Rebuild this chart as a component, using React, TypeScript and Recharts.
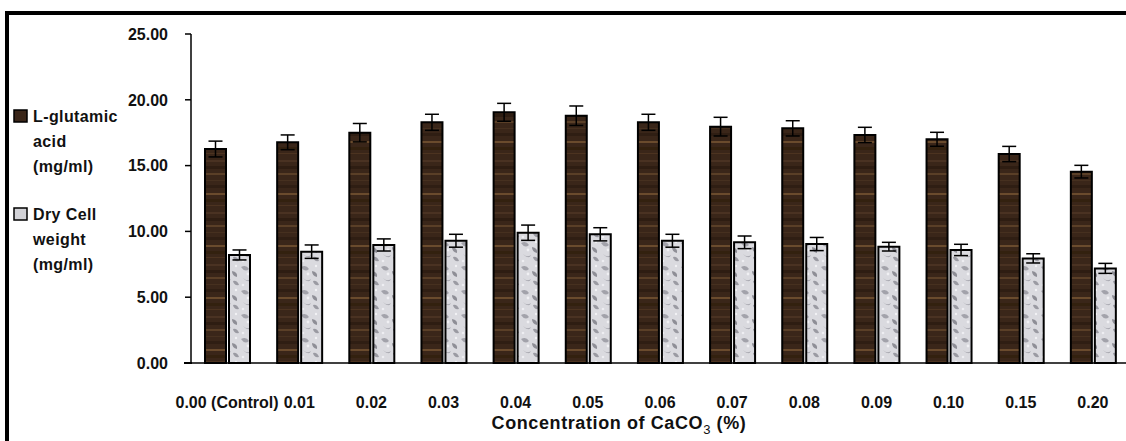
import React from "react";
import { BarChart, Bar, XAxis, YAxis, ErrorBar } from "recharts";

// CaCO3 concentration (%) on the category axis
const categories = [
  "0.00 (Control)",
  "0.01",
  "0.02",
  "0.03",
  "0.04",
  "0.05",
  "0.06",
  "0.07",
  "0.08",
  "0.09",
  "0.10",
  "0.15",
  "0.20",
];

// L-glutamic acid (mg/ml) and its standard error
const glutamic = [16.26, 16.77, 17.5, 18.29, 19.05, 18.79, 18.29, 17.96, 17.83, 17.33, 17.0, 15.88, 14.54];
const glutamicErr = [0.6, 0.56, 0.7, 0.61, 0.68, 0.74, 0.61, 0.71, 0.58, 0.58, 0.53, 0.58, 0.48];

// Dry cell weight (mg/ml) and its standard error
const dryCell = [8.21, 8.46, 8.97, 9.29, 9.9, 9.78, 9.29, 9.17, 9.04, 8.84, 8.59, 7.95, 7.19];
const dryCellErr = [0.38, 0.51, 0.46, 0.49, 0.58, 0.5, 0.49, 0.48, 0.5, 0.33, 0.43, 0.35, 0.38];

const yTicks = [0, 5, 10, 15, 20, 25];

const data = categories.map((name, i) => ({
  name,
  glu: glutamic[i],
  gluErr: glutamicErr[i],
  dcw: dryCell[i],
  dcwErr: dryCellErr[i],
}));

const FONT = "'Liberation Sans', Arial, sans-serif";

const labelStyle: React.CSSProperties = {
  fontFamily: FONT,
  fontWeight: 700,
  fontSize: 16,
  fill: "#111",
};

const XTick = ({ x, y, payload }: any) => (
  <text x={x} y={y + 43} textAnchor="middle" style={labelStyle}>
    {payload.value}
  </text>
);

const YTick = ({ x, y, payload }: any) => (
  <text x={x} y={y} dy="0.36em" textAnchor="end" style={labelStyle}>
    {Number(payload.value).toFixed(2)}
  </text>
);

const Swatch = ({ fill }: { fill: string }) => (
  <svg width={16} height={14} style={{ position: "absolute", left: 13, top: 0 }}>
    <rect x={1} y={1} width={13} height={12} fill={fill} stroke="#000" strokeWidth={1.5} />
  </svg>
);

const legendText: React.CSSProperties = {
  position: "absolute",
  left: 33,
  fontFamily: FONT,
  fontWeight: 700,
  fontSize: 16,
  letterSpacing: 0.4,
  lineHeight: "25px",
  color: "#111",
  whiteSpace: "nowrap",
};

function Patterns() {
  return (
    <defs>
      <pattern id="wood" patternUnits="userSpaceOnUse" width={24} height={52}>
        <rect width={24} height={52} fill="#3a2619" />
        <rect y={4} width={24} height={2} fill="#4a3222" />
        <rect y={10} width={24} height={3} fill="#2e1d12" />
        <rect y={17} width={24} height={2} fill="#5a3f27" />
        <rect y={24} width={24} height={1} fill="#46301f" />
        <rect y={29} width={24} height={3} fill="#2f1e13" />
        <rect y={37} width={24} height={2} fill="#6a4b2d" />
        <rect y={43} width={24} height={3} fill="#33210f" />
        <rect y={49} width={24} height={1} fill="#4c3320" />
      </pattern>
      <pattern id="granite" patternUnits="userSpaceOnUse" width={20} height={24}>
        <rect width={20} height={24} fill="#dadadf" />
        <path d="M1 3 q5 -3 8 2 q-4 4 -8 -2z" fill="#a2a2aa" />
        <path d="M12 7 q6 1 5 6 q-5 -1 -5 -6z" fill="#8e8e96" />
        <path d="M3 14 q4 4 8 1 q-2 5 -8 -1z" fill="#a8a8b0" />
        <path d="M13 17 q4 -1 6 4 q-5 1 -6 -4z" fill="#9a9aa2" />
        <circle cx={8} cy={10} r={1.4} fill="#f0f0f3" />
        <circle cx={16} cy={2} r={1.2} fill="#f2f2f5" />
        <circle cx={3} cy={21} r={1.3} fill="#eeeef2" />
      </pattern>
    </defs>
  );
}

export default function App() {
  return (
    <div
      style={{
        position: "absolute",
        left: 0,
        top: 0,
        width: 1126,
        height: 441,
        overflow: "hidden",
        background: "#fff",
      }}
    >
      <div
        style={{
          position: "absolute",
          left: 5,
          top: 11,
          width: 1200,
          height: 500,
          border: "4px solid #000",
          boxSizing: "border-box",
        }}
      />

      <BarChart
        width={1140}
        height={441}
        data={data}
        margin={{ top: 34, right: 11, bottom: 38, left: 111 }}
        barSize={21}
        barGap={3}
        style={{ position: "absolute", left: 0, top: 0 }}
      >
        <Patterns />
        <XAxis
          dataKey="name"
          height={40}
          interval={0}
          tickLine={false}
          tickSize={0}
          axisLine={{ stroke: "#000", strokeWidth: 1.5 }}
          tick={<XTick />}
        />
        <YAxis
          domain={[0, 25]}
          ticks={yTicks}
          width={80}
          tickSize={6}
          tickMargin={17}
          axisLine={{ stroke: "#000", strokeWidth: 1.5 }}
          tickLine={{ stroke: "#000", strokeWidth: 1.5 }}
          tick={<YTick />}
        />
        <Bar dataKey="glu" fill="url(#wood)" stroke="#000" strokeWidth={2} isAnimationActive={false}>
          <ErrorBar dataKey="gluErr" width={7} stroke="#000" strokeWidth={1.5} />
        </Bar>
        <Bar dataKey="dcw" fill="url(#granite)" stroke="#000" strokeWidth={2} isAnimationActive={false}>
          <ErrorBar dataKey="dcwErr" width={7} stroke="#000" strokeWidth={1.5} />
        </Bar>
      </BarChart>

      {/* x axis line runs past the y axis by a tick length */}
      <div style={{ position: "absolute", left: 184, top: 362, width: 8, height: 1.5, background: "#000" }} />

      {/* legend on the left */}
      <div style={{ position: "absolute", left: 0, top: 109 }}>
        <Swatch fill="#3a2619" />
      </div>
      <div style={{ ...legendText, top: 104 }}>
        L-glutamic
        <br />
        acid
        <br />
        (mg/ml)
      </div>
      <div style={{ position: "absolute", left: 0, top: 207 }}>
        <Swatch fill="#d2d2d7" />
      </div>
      <div style={{ ...legendText, top: 202 }}>
        Dry Cell
        <br />
        weight
        <br />
        (mg/ml)
      </div>

      {/* axis title */}
      <div
        style={{
          position: "absolute",
          left: 419,
          width: 400,
          top: 413,
          textAlign: "center",
          fontFamily: FONT,
          fontWeight: 700,
          fontSize: 18,
          letterSpacing: 0.6,
          color: "#111",
          whiteSpace: "nowrap",
        }}
      >
        Concentration of CaCO<sub style={{ fontSize: 13, fontWeight: 400 }}>3</sub> (%)
      </div>
    </div>
  );
}
